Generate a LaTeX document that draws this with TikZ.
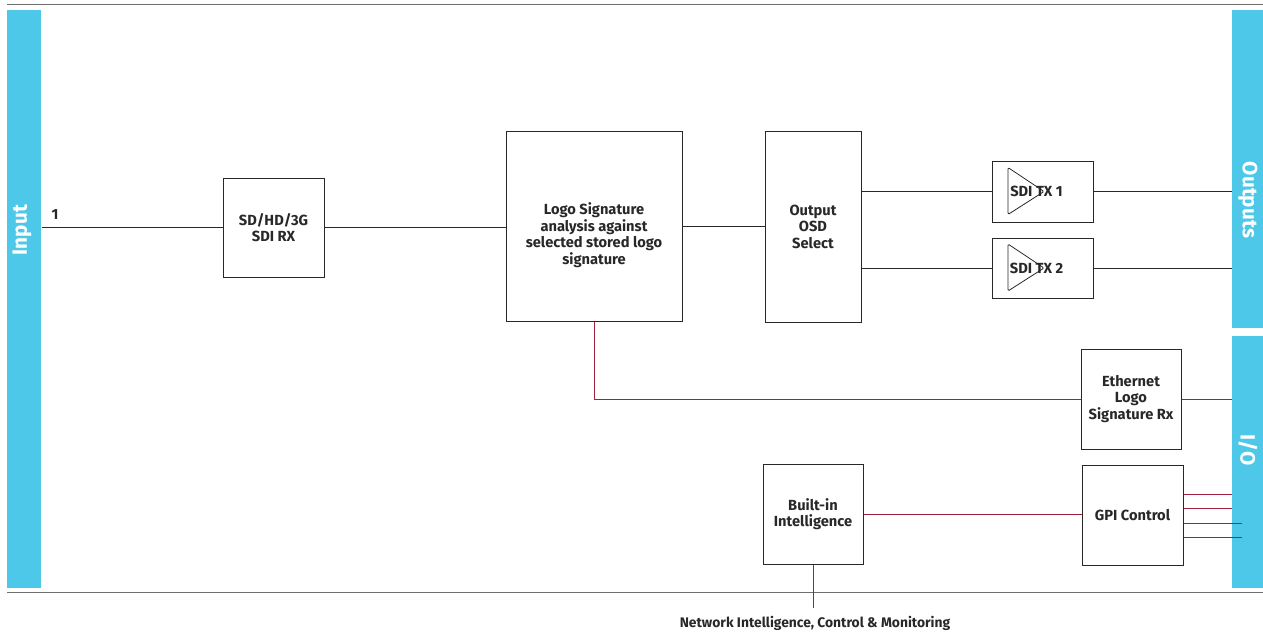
\documentclass[tikz,border=0pt]{standalone}
\usepackage{fontspec}
\setmainfont{Fira Sans}
\usepackage{tikz}
\definecolor{barblue}{RGB}{77,200,233}
\definecolor{linkred}{RGB}{163,33,63}
\definecolor{rulegray}{RGB}{110,110,110}
\definecolor{boxline}{RGB}{40,40,40}
\tikzset{every picture/.style={line width=0.75pt}}
\tikzset{
  blockbox/.style={draw=boxline, fill=white, align=center, inner sep=2pt,
    font=\fontsize{11}{12.4}\selectfont\bfseries, text=boxline},
  blocktext/.style={align=center, inner sep=1pt,
    font=\fontsize{11}{12.4}\selectfont\bfseries, text=boxline},
  sidebar/.style={fill=barblue, draw=none, inner sep=0pt},
  barlabel/.style={text=white, font=\fontsize{15.5}{17}\selectfont\bfseries},
  wire/.style={draw=boxline, line width=0.75pt},
  redwire/.style={draw=linkred, line width=0.75pt},
}

\begin{document}
\begin{tikzpicture}[x=0.75pt,y=0.75pt,yscale=-1,xscale=1]
\useasboundingbox (0,0) rectangle (1263,632);

%Straight Lines (top and bottom rules)
\draw [color=rulegray, line width=1.1pt] (7,4.5) -- (1263,4.5) ;
\draw [color=rulegray, line width=1.1pt] (7,592.5) -- (1263,592.5) ;

%Shape: side bars
\node [sidebar, minimum width=25.5pt, minimum height=433.5pt] (inbar) at (24,299) {};
\node [sidebar, minimum width=23.25pt, minimum height=238.5pt] (outbar) at (1247.5,169) {};
\node [sidebar, minimum width=23.25pt, minimum height=189pt] (iobar) at (1247.5,462) {};
\node [barlabel, rotate=90] (inlabel) at (22,230) {Input};
\node [barlabel, rotate=-90] (outlabel) at (1248,200) {Outputs};
\node [barlabel, rotate=-90] (iolabel) at (1248,450) {I/O};

%Shape: Rectangle blocks
\node [blockbox, minimum width=75.75pt, minimum height=74.25pt] (rx) at (273.5,227.5) {SD/HD/3G\\SDI RX};
\node [blockbox, minimum width=132pt, minimum height=142.5pt] (logo) at (594,226) {};
\node [blocktext] (logotext) at ([shift={(0,9)}]logo.center) {Logo Signature\\analysis against\\selected stored logo\\signature};
\node [blockbox, minimum width=72pt, minimum height=143.25pt] (osd) at (813,226.5) {Output\\OSD\\Select};
\node [blockbox, minimum width=75.75pt, minimum height=45.75pt] (tx1) at (1042.5,191.5) {};
\node [blockbox, minimum width=75.75pt, minimum height=45pt] (tx2) at (1042.5,268) {};
\node [blockbox, minimum width=75pt, minimum height=75pt] (eth) at (1131,399) {Ethernet\\Logo\\Signature Rx};
\node [blockbox, minimum width=75pt, minimum height=75pt] (ai) at (813,514) {Built-in\\Intelligence};
\node [blockbox, minimum width=75.75pt, minimum height=75pt] (gpi) at (1132.5,515) {GPI Control};

%Shape: Triangle (driver symbols)
\foreach \tx in {tx1,tx2}
  \draw [color=boxline, line width=0.6pt, rounded corners=1pt] ([shift={(-34.5,-24)}]\tx.center) -- ([shift={(1.5,0)}]\tx.center) -- ([shift={(-34.5,23)}]\tx.center) -- cycle ;
\node [blocktext] (tx1label) at ([shift={(-6,0)}]tx1.center) {SDI TX 1};
\node [blocktext] (tx2label) at ([shift={(-6,0)}]tx2.center) {SDI TX 2};

%Straight Lines (video path)
\node [blocktext] (inone) at (55,215) {1};
\draw [wire] (inbar.east |- rx.west) -- (rx.west) ;
\draw [wire] (rx.east) -- (rx.east -| logo.west) ;
\draw [wire] (logo.east) -- (logo.east -| osd.west) ;
\draw [wire] (osd.east |- tx1.west) -- (tx1.west) ;
\draw [wire] (osd.east |- tx2.west) -- (tx2.west) ;
\draw [wire] (tx1.east) -- (outbar.west |- tx1.east) ;
\draw [wire] (tx2.east) -- (outbar.west |- tx2.east) ;

%Straight Lines (control path)
\draw [redwire] (logo.south) -- (logo.south |- eth.west) -- (eth.west) ;
\draw [redwire] (eth.east) -- (iobar.west |- eth.east) ;
\draw [redwire] (ai.east) -- (ai.east -| gpi.west) ;
\foreach \dy/\xe in {-21/0,-6.5/0,8/10,22/10}
  \draw [redwire] ([shift={(0,\dy)}]gpi.east) -- ([shift={(\xe,\dy)}]gpi.east -| iobar.west) ;

%Network link
\coordinate (netend) at ([shift={(0,43)}]ai.south) ;
\draw [redwire] (ai.south) -- (netend) ;
\node [font=\fontsize{10.4}{12}\selectfont\bfseries, text=boxline] (netlabel) at (815,623) {Network Intelligence, Control \& Monitoring};

\end{tikzpicture}
\end{document}
